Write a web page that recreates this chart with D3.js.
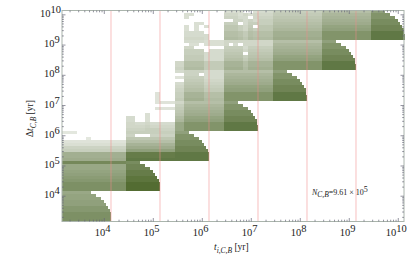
<!DOCTYPE html>
<html><head><meta charset="utf-8">
<script src="https://cdn.jsdelivr.net/npm/d3@7"></script>
<style>html,body{margin:0;padding:0;background:#fff}svg{display:block}
text{font-family:"Liberation Serif",serif;fill:#222}</style></head><body>
<svg id="c" width="415" height="264"></svg>
<script>
// Binned counts (base-36 shade level per cell, 0 = empty), top row first, 0.1 dex bins.
const densityRows = [
"000 0000000000 0000000000 0000000000 4444004555 8888888888 cccccccccc kkk0000",
"000 0000000000 0000000000 0044000000 6664646666 9999999999 eeeeeeeeee nnnn000",
"000 0000000000 0000000000 0040000000 7775506777 aaaaaaaaaa ffffffffff nnnnn00",
"000 0000000000 0000000000 0000000000 0077575888 bbbbbbbbbb gggggggggg pppppp0",
"000 0000000000 0000000000 0000440000 8880588888 cccccccccc hhhhhhhhhh pppppp0",
"000 0000000000 0000000000 0040404000 aaa8690aaa dddddddddd jjjjjjjjjj rrrrrrr",
"000 0000000000 0000000000 0040400000 aaa86a8aaa eeeeeeeeee kkkkkkkkkk rrrrrrr",
"000 0000000000 0000000000 0055550000 cccb9cbccc gggggggggg nnnnnnnnnn uuuuuuu",
"000 0000000000 0000000000 0055555000 cccb9cbccc gggggggggg nnnnnnnnnn uuuuuuu",
"000 0000000000 0000000000 0066665000 dddcadcddd hhhhhhhhhh nnnnnnnnnn uuuuuuu",

"000 0000000000 0000000000 0055554444 6666666666 cccccccccc kkk0000000 0000000",
"000 0000000000 0000000000 0004404444 6050666666 eeeeeeeeee nnnn000000 0000000",
"000 0000000000 0000000000 0066000000 8888588888 ffffffffff nnnnn00000 0000000",
"000 0000000000 0000000000 0088880555 9999699999 gggggggggg pppppp0000 0000000",
"000 0000000000 0000000000 0088885555 aaaa0aaaaa hhhhhhhhhh pppppp0000 0000000",
"000 0000000000 0000000000 0099995555 bbbb8bbbbb jjjjjjjjjj rrrrrrr000 0000000",
"000 0000000000 0000000000 0099995555 cccc9ccccc kkkkkkkkkk rrrrrrr000 0000000",
"000 0000000000 0000000000 66cccc9999 ffffcfffff nnnnnnnnnn uuuuuuu000 0000000",
"000 0000000000 0000000000 66cccc9999 ffffcfffff nnnnnnnnnn uuuuuuu000 0000000",
"000 0000000000 0000000000 77dddd9999 ggggdggggg nnnnnnnnnn uuuuuuu000 0000000",

"000 0000000000 0000000000 5577775555 cccccccccc kkk0000000 0000000000 0000000",
"000 0000000000 0000000000 0077705555 eeeeeeeeee nnnn000000 0000000000 0000000",
"000 0000000000 0000000000 3388885555 ffffffffff nnnnn00000 0000000000 0000000",
"000 0000000000 0000000000 0099996666 gggggggggg pppppp0000 0000000000 0000000",
"000 0000000000 0000000000 55aaaa7777 hhhhhhhhhh pppppp0000 0000000000 0000000",
"000 0000000000 0000000000 66bbbb8888 jjjjjjjjjj rrrrrrr000 0000000000 0000000",
"000 0000000000 0000000000 77cccc9999 kkkkkkkkkk rrrrrrr000 0000000000 0000000",
"000 0000000000 0000003000 88ffffcccc nnnnnnnnnn uuuuuuu000 0000000000 0000000",
"000 0000000000 0000003000 88ffffcccc nnnnnnnnnn uuuuuuu000 0000000000 0000000",
"000 0000000000 0000003000 99ggggdddd nnnnnnnnnn uuuuuuu000 0000000000 0000000",

"000 0000000000 0000003333 66cccccccc kkk0000000 0000000000 0000000000 0000000",
"000 0000000000 0000000000 88eeeeeeee nnnn000000 0000000000 0000000000 0000000",
"000 0000000000 0000003333 99ffffffff nnnnn00000 0000000000 0000000000 0000000",
"000 0000000000 0000000000 aagggggggg pppppp0000 0000000000 0000000000 0000000",
"000 0000000000 0000400000 bbhhhhhhhh pppppp0000 0000000000 0000000000 0000000",
"000 0000000000 5500400000 ddjjjjjjjj rrrrrrr000 0000000000 0000000000 0000000",
"000 0000000000 5500400000 eekkkkkkkk rrrrrrr000 0000000000 0000000000 0000000",
"000 0000000000 6655655555 iinnnnnnnn uuuuuuu000 0000000000 0000000000 0000000",
"000 0000000000 6666766666 iinnnnnnnn uuuuuuu000 0000000000 0000000000 0000000",
"000 0000000000 7777888777 iinnnnnnnn uuuuuuu000 0000000000 0000000000 0000000",

"222 0000000000 8888888888 kkk0000000 0000000000 0000000000 0000000000 0000000",
"000 0000000000 7700077777 nnnn000000 0000000000 0000000000 0000000000 0000000",
"000 0020000000 aaaaaaaaaa nnnnn00000 0000000000 0000000000 0000000000 0000000",
"333 3333333333 cccccccccc pppppp0000 0000000000 0000000000 0000000000 0000000",
"444 4444444444 ffffffffff pppppp0000 0000000000 0000000000 0000000000 0000000",
"777 7777777777 hhhhhhhhhh rrrrrrr000 0000000000 0000000000 0000000000 0000000",
"888 8888888888 kkkkkkkkkk rrrrrrr000 0000000000 0000000000 0000000000 0000000",
"ggg gggggggggg tttttttttt uuuuuuu000 0000000000 0000000000 0000000000 0000000",
"ggg gggggggggg tttttttttt uuuuuuu000 0000000000 0000000000 0000000000 0000000",
"hhh hhhhhhhhhh uuuuuuuuuu uuuuuuu000 0000000000 0000000000 0000000000 0000000",

"qqq qqqqqqqqqq ppp0000000 0000000000 0000000000 0000000000 0000000000 0000000",
"iii iiiiiiiiii rrrr000000 0000000000 0000000000 0000000000 0000000000 0000000",
"iii iiiiiiiiii rrrrr00000 0000000000 0000000000 0000000000 0000000000 0000000",
"jjj jjjjjjjjjj tttttt0000 0000000000 0000000000 0000000000 0000000000 0000000",
"kkk kkkkkkkkkk tttttt0000 0000000000 0000000000 0000000000 0000000000 0000000",
"lll llllllllll vvvvvvv000 0000000000 0000000000 0000000000 0000000000 0000000",
"mmm mmmmmmmmmm vvvvvvv000 0000000000 0000000000 0000000000 0000000000 0000000",
"ooo oooooooooo xxxxxxx000 0000000000 0000000000 0000000000 0000000000 0000000",
"ooo oooooooooo xxxxxxx000 0000000000 0000000000 0000000000 0000000000 0000000",
"ooo oooooooooo xxxxxxx000 0000000000 0000000000 0000000000 0000000000 0000000",

"iii iii0000000 0000000000 0000000000 0000000000 0000000000 0000000000 0000000",
"jjj jjjj000000 0000000000 0000000000 0000000000 0000000000 0000000000 0000000",
"jjj jjjjj00000 0000000000 0000000000 0000000000 0000000000 0000000000 0000000",
"kkk kkkkkk0000 0000000000 0000000000 0000000000 0000000000 0000000000 0000000",
"kkk kkkkkk0000 0000000000 0000000000 0000000000 0000000000 0000000000 0000000",
"mmm mmmmmmm000 0000000000 0000000000 0000000000 0000000000 0000000000 0000000",
"mmm mmmmmmm000 0000000000 0000000000 0000000000 0000000000 0000000000 0000000",
"ooo ooooooo000 0000000000 0000000000 0000000000 0000000000 0000000000 0000000",
"ooo ooooooo000 0000000000 0000000000 0000000000 0000000000 0000000000 0000000",
"ooo ooooooo000 0000000000 0000000000 0000000000 0000000000 0000000000 0000000"
];
// How far (in bins) the rounded end of each block's darkest part reaches, bottom row of the block first.
const capReach = [7, 7, 6.9, 6.7, 6.4, 6, 5.5, 4.9, 4, 3];
const redLineExponents = [4.147, 5.147, 6.147, 7.147, 8.147, 9.147];
const xTickExponents = [4, 5, 6, 7, 8, 9, 10];
const yTickExponents = [4, 5, 6, 7, 8, 9, 10];
const logMin = 3.147, logMax = 10.127, binDex = 0.1;

const box = {l: 62, r: 404, t: 10.5, b: 221.5};
const x = d3.scaleLog().domain([10 ** logMin, 10 ** logMax]).range([box.l, box.r]);
const y = d3.scaleLog().domain([10 ** logMin, 10 ** logMax]).range([box.b, box.t]);
const shade = d3.scaleLinear().domain([1, 35]).range(["#e8ebe4", "#4a6428"]);

const svg = d3.select("#c");
const defs = svg.append("defs");
defs.append("filter").attr("id", "soft").attr("x", "-2%").attr("y", "-2%").attr("width", "104%").attr("height", "104%")
  .append("feGaussianBlur").attr("stdDeviation", 0.4);
const cells = [];
densityRows.forEach((s, ri) => {
  const row = s.replace(/ /g, "");
  const rowFromBottom = densityRows.length - 1 - ri;
  for (let ci = 0; ci < row.length; ci++) {
    const v = parseInt(row[ci], 36);
    if (v > 0) cells.push({ci, r: rowFromBottom, v});
  }
});
const edge = i => 10 ** (logMin + i * binDex);
function cellSpan(d) {
  const block = Math.floor(d.r / 10);
  const capStart = block * 10 + 3;
  if (d.ci < capStart) return 1;
  return Math.max(0, Math.min(1, capReach[d.r % 10] - (d.ci - capStart)));
}
svg.append("g").attr("filter", "url(#soft)").selectAll("rect").data(cells).join("rect")
  .attr("x", d => x(edge(d.ci)))
  .attr("width", d => (x(edge(d.ci + 1)) - x(edge(d.ci))) * cellSpan(d))
  .attr("y", d => y(edge(d.r + 1)))
  .attr("height", d => y(edge(d.r)) - y(edge(d.r + 1)))
  .attr("shape-rendering", "crispEdges")
  .attr("fill", d => shade(d.v));

svg.append("g").selectAll("line").data(redLineExponents).join("line")
  .attr("x1", d => x(10 ** d)).attr("x2", d => x(10 ** d))
  .attr("y1", box.t).attr("y2", box.b)
  .attr("stroke", "#f08a8a").attr("stroke-opacity", 0.42).attr("stroke-width", 1.3);

// frame
svg.append("rect").attr("x", box.l).attr("y", box.t)
  .attr("width", box.r - box.l).attr("height", box.b - box.t)
  .attr("fill", "none").attr("stroke", "#aab4ac").attr("stroke-width", 1);

// ticks
const minors = [];
for (let e = 3; e <= 10; e++) for (let m = 2; m <= 9; m++) {
  const v = m * 10 ** e;
  if (v > 10 ** logMin && v < 10 ** logMax) minors.push(v);
}
const majors = xTickExponents.map(e => 10 ** e);
function ticks(axisFn, scale, vals, size, tx) {
  const g = svg.append("g").attr("transform", tx)
    .call(axisFn(scale).tickValues(vals).tickSize(size).tickFormat(""));
  g.select(".domain").remove();
  g.selectAll("line").attr("stroke", "#667").attr("stroke-width", 0.7);
}
[[majors, 3.5], [minors, 1.8]].forEach(([vals, s]) => {
  ticks(d3.axisBottom, x, vals, -s, `translate(0,${box.b})`);
  ticks(d3.axisTop, x, vals, -s, `translate(0,${box.t})`);
  ticks(d3.axisLeft, y, vals, -s, `translate(${box.l},0)`);
  ticks(d3.axisRight, y, vals, -s, `translate(${box.r},0)`);
});

// tick labels
function power(parent, e) {
  parent.append("tspan").text("10");
  parent.append("tspan").attr("dy", -4).attr("font-size", 10.5).text(e);
}
xTickExponents.forEach(e => {
  const t = svg.append("text").attr("x", x(10 ** e) - 9 - (e === 10 ? 3 : 0)).attr("y", 236).attr("font-size", 10.5);
  power(t, e);
});
yTickExponents.forEach(e => {
  const t = svg.append("text").attr("x", e === 10 ? 40 : 44).attr("y", y(10 ** e) + 2.5).attr("font-size", 10.5);
  power(t, e);
});

// axis titles
function sub(t, s) {
  t.append("tspan").attr("font-style", "italic").text(s[0]);
  t.append("tspan").attr("font-style", "italic").attr("dy", 2.5).attr("font-size", 7.5).text(s[1]);
}
const xt = svg.append("text").attr("x", 214).attr("y", 250).attr("font-size", 9.5);
sub(xt, ["t", "i,C,B"]);
xt.append("tspan").attr("dy", -2.5).text(" [yr]");
const yt = svg.append("text").attr("transform", "translate(33,137) rotate(-90)").attr("font-size", 9.5);
yt.append("tspan").text("Δ");
sub(yt, ["t", "C,B"]);
yt.append("tspan").attr("dy", -2.5).text(" [yr]");

// annotation
const an = svg.append("text").attr("x", 312).attr("y", 195).attr("font-size", 8);
an.append("tspan").attr("font-style", "italic").text("N");
an.append("tspan").attr("font-style", "italic").attr("dy", 2).attr("font-size", 7.5).text("C,B");
an.append("tspan").attr("dy", -2).text("=9.61 × 10");
an.append("tspan").attr("dy", -3).attr("font-size", 8).text("5");
</script></body></html>
